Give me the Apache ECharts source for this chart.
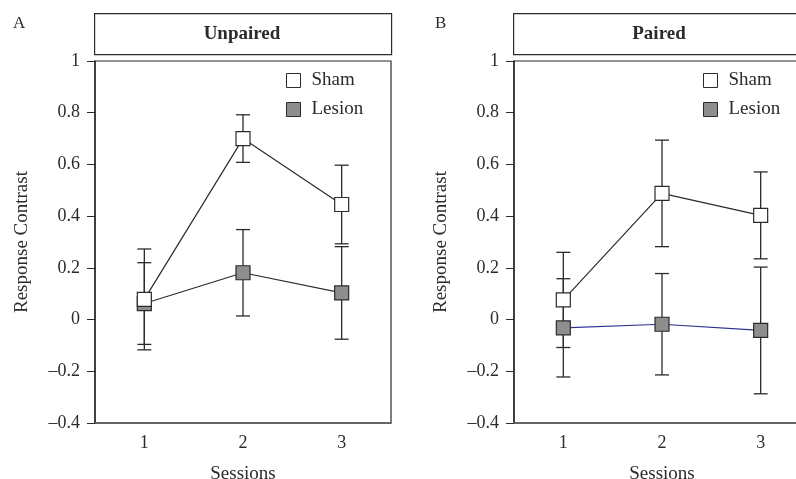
<!DOCTYPE html>
<html lang="en">
<head>
    <meta charset="UTF-8">
    <title>Response Contrast</title>
    <script src="https://cdn.jsdelivr.net/npm/echarts@6/dist/echarts.min.js"></script>
    <style>
        * { margin: 0; padding: 0; }
        html, body { width: 100%; height: 100%; overflow: hidden; background: #fff; }
        #chart { width: 796px; height: 479px; }
    </style>
</head>
<body>
<div id="chart"></div>
<script>
    // data
    let sessions = ['1', '2', '3'];
    let unpairedShamMean = [0.078, 0.70, 0.445];
    let unpairedShamErr = [0.195, 0.092, 0.152];
    let unpairedLesionMean = [0.062, 0.181, 0.103];
    let unpairedLesionErr = [0.158, 0.167, 0.179];
    let pairedShamMean = [0.076, 0.488, 0.403];
    let pairedShamErr = [0.184, 0.206, 0.168];
    let pairedLesionMean = [-0.032, -0.018, -0.042];
    let pairedLesionErr = [0.19, 0.196, 0.245];

    let font = "'Liberation Serif', 'DejaVu Serif', serif";
    let ink = '#2b2b2b';
    let chart = echarts.init(document.getElementById('chart'));

    function errData(mean, err) {
        return mean.map((m, i) => [i, m - err[i], m + err[i]]);
    }

    function errSeries(mean, err, idx) {
        return {
            type: 'custom',
            xAxisIndex: idx,
            yAxisIndex: idx,
            z: 1,
            silent: true,
            data: errData(mean, err),
            renderItem: function (params, api) {
                let x = api.coord([api.value(0), 0])[0];
                let lo = api.coord([api.value(0), api.value(1)])[1];
                let hi = api.coord([api.value(0), api.value(2)])[1];
                let w = 7;
                let st = {stroke: ink, lineWidth: 1.3};
                return {
                    type: 'group',
                    children: [
                        {type: 'line', shape: {x1: x, y1: lo, x2: x, y2: hi}, style: st},
                        {type: 'line', shape: {x1: x - w, y1: lo, x2: x + w, y2: lo}, style: st},
                        {type: 'line', shape: {x1: x - w, y1: hi, x2: x + w, y2: hi}, style: st}
                    ]
                };
            }
        };
    }

    function lineSeries(name, mean, idx, fill, lineColor) {
        return {
            name: name,
            type: 'line',
            xAxisIndex: idx,
            yAxisIndex: idx,
            z: 3,
            data: mean,
            symbol: 'rect',
            symbolSize: 14,
            lineStyle: {color: lineColor, width: 1.2},
            itemStyle: {color: fill, borderColor: ink, borderWidth: 1.2},
            emphasis: {disabled: true}
        };
    }

    let grids = [
        {left: 95, top: 61, width: 296, height: 362},
        {left: 514, top: 61, width: 296, height: 362}
    ];

    let xAxes = grids.map((g, i) => ({
        type: 'category',
        gridIndex: i,
        data: sessions,
        boundaryGap: true,
        name: 'Sessions',
        nameLocation: 'middle',
        nameGap: 42,
        nameTextStyle: {fontFamily: font, fontSize: 19, color: ink},
        axisLine: {onZero: false, lineStyle: {color: '#555', width: 1.5}},
        axisTick: {show: false},
        axisLabel: {fontFamily: font, fontSize: 18, color: ink, margin: 11}
    }));

    let yAxes = grids.map((g, i) => ({
        type: 'value',
        gridIndex: i,
        min: -0.4,
        max: 1,
        interval: 0.2,
        name: 'Response Contrast',
        nameLocation: 'middle',
        nameGap: 63,
        nameTextStyle: {fontFamily: font, fontSize: 19, color: ink},
        splitLine: {show: false},
        axisLine: {show: true, onZero: false, lineStyle: {color: ink, width: 1.5}},
        axisTick: {show: true, length: 8, lineStyle: {color: ink}},
        axisLabel: {
            fontFamily: font, fontSize: 18, color: ink, margin: 15,
            formatter: v => String(Math.round(v * 10) / 10).replace('-', '\u2013')
        }
    }));

    let legendData = [
        {name: 'Sham', itemStyle: {color: '#fff', borderColor: ink, borderWidth: 1}},
        {name: 'Lesion', itemStyle: {color: '#8e8e8e', borderColor: ink, borderWidth: 1}}
    ];

    function legendAt(left) {
        return {
            left: left, top: 71, orient: 'vertical', padding: 0,
            icon: 'rect', itemWidth: 14, itemHeight: 14, itemGap: 10,
            selectedMode: false,
            textStyle: {fontFamily: font, fontSize: 19, color: ink, padding: [0, 0, 0, 6]},
            data: legendData
        };
    }

    function titleBox(x, w, cx, text) {
        return [
            {type: 'rect', left: x, top: 13, shape: {width: w, height: 41},
                style: {fill: '#fff', stroke: ink, lineWidth: 1.2}},
            {type: 'text', x: cx, y: 34,
                style: {text: text, font: "bold 19px " + font, fill: ink, align: 'center', verticalAlign: 'middle'}}
        ];
    }

    let option = {
        backgroundColor: '#fff',
        animation: false,
        grid: grids.map(g => Object.assign({
            show: true, borderColor: ink, borderWidth: 1.2,
            backgroundColor: 'transparent', outerBoundsMode: 'none', containLabel: false
        }, g)),
        xAxis: xAxes,
        yAxis: yAxes,
        legend: [legendAt(286), legendAt(703)],
        graphic: [
            {type: 'text', left: 13, top: 15, style: {text: 'A', font: "17px " + font, fill: ink}},
            {type: 'text', left: 435, top: 15, style: {text: 'B', font: "17px " + font, fill: ink}}
        ].concat(titleBox(94, 297, 242, 'Unpaired'))
         .concat(titleBox(513, 300, 659, 'Paired')),
        series: [
            errSeries(unpairedLesionMean, unpairedLesionErr, 0),
            errSeries(unpairedShamMean, unpairedShamErr, 0),
            lineSeries('Lesion', unpairedLesionMean, 0, '#8e8e8e', ink),
            lineSeries('Sham', unpairedShamMean, 0, '#fff', ink),
            errSeries(pairedLesionMean, pairedLesionErr, 1),
            errSeries(pairedShamMean, pairedShamErr, 1),
            lineSeries('Lesion', pairedLesionMean, 1, '#8e8e8e', '#2e3192'),
            lineSeries('Sham', pairedShamMean, 1, '#fff', ink)
        ]
    };
    chart.setOption(option);
</script>
</body>
</html>
